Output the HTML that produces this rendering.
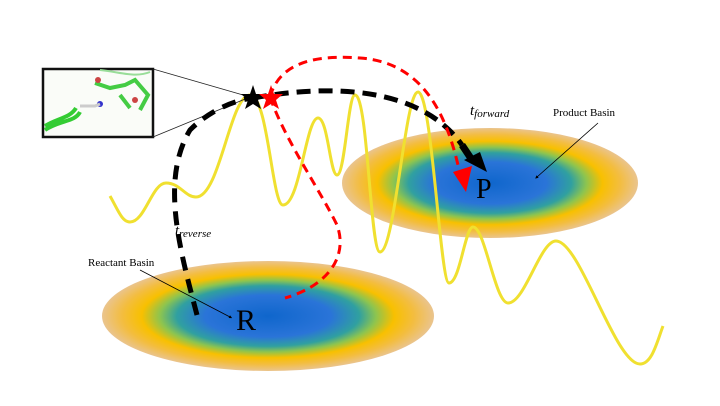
<!DOCTYPE html>
<html><head><meta charset="utf-8"><style>html,body{margin:0;padding:0;background:#fff}svg{display:block}</style></head><body>
<svg width="720" height="406" viewBox="0 0 720 406" xmlns="http://www.w3.org/2000/svg">
<defs>
<radialGradient id="g" cx="50%" cy="50%" r="50%">
<stop offset="0" stop-color="#0f66cc"/>
<stop offset="0.38" stop-color="#2a74d8"/>
<stop offset="0.55" stop-color="#30a0a0"/>
<stop offset="0.65" stop-color="#8cc450"/>
<stop offset="0.76" stop-color="#f8c000"/>
<stop offset="0.88" stop-color="#f3bd40"/>
<stop offset="1" stop-color="#eac48e"/>
</radialGradient>
<marker id="ak" markerWidth="4" markerHeight="4" refX="1" refY="2" orient="auto" markerUnits="strokeWidth"><path d="M0,0 L4,2 L0,4z" fill="#000"/></marker>
</defs>
<ellipse cx="490" cy="183" rx="148" ry="55" fill="url(#g)"/>
<ellipse cx="268" cy="316" rx="166" ry="55" fill="url(#g)"/>
<path d="M110,196 C118,210 122,222 130,222 C145,222 152,183 166,183 C180,183 185,197 196,197 C220,197 230,95 250,95 C268,95 272,205 283,205 C300,205 306,118 318,118 C328,118 330,175 337,175 C345,175 348,95 355,95 C368,95 370,252 380,252 C395,252 405,92 418,92 C432,92 440,283 449,283 C460,283 465,227 473,227 C485,227 495,303 508,303 C525,303 540,241 556,241 C580,241 615,364 640,364 C652,364 657,342 663,326" fill="none" stroke="#f0e030" stroke-width="3"/>
<rect x="43" y="69" width="110" height="68" fill="#fafcf8" stroke="#111" stroke-width="2.5"/>
<path d="M45,130 C60,120 75,122 80,112 M45,126 C58,118 70,118 76,108" stroke="#3c3" stroke-width="4" fill="none"/>
<path d="M95,83 L110,88 L125,85 L135,80 L148,95 L140,110 M120,95 L130,108" stroke="#4c4" stroke-width="4" fill="none"/>
<circle cx="98" cy="80" r="3" fill="#c44"/><circle cx="135" cy="100" r="3" fill="#c44"/><circle cx="100" cy="104" r="3" fill="#33c"/>
<path d="M80,106 L95,106 L100,104" stroke="#ccc" stroke-width="3" fill="none"/>
<path d="M100,70 C120,72 135,78 150,72" stroke="#9d9" stroke-width="2" fill="none"/>
<line x1="153" y1="69" x2="250" y2="97" stroke="#222" stroke-width="0.8"/>
<line x1="153" y1="137" x2="250" y2="97" stroke="#222" stroke-width="0.8"/>
<path d="M197,315 C180,250 160,180 190,130 C210,110 235,100 253,98" fill="none" stroke="#000" stroke-width="5" stroke-dasharray="14,9"/>
<path d="M253,98 C330,84 420,86 462,145" fill="none" stroke="#000" stroke-width="5" stroke-dasharray="14,8"/>
<path d="M462,145 L472,160" stroke="#000" stroke-width="7"/>
<path d="M464,160 L480,152 L487,172z" fill="#000"/>
<path d="M270,97 C280,60 320,55 360,58 C420,62 445,110 458,165" fill="none" stroke="#f00" stroke-width="3" stroke-dasharray="9,6"/>
<path d="M270,97 C285,140 320,190 337,225 C348,255 330,285 285,298" fill="none" stroke="#f00" stroke-width="3" stroke-dasharray="9,6"/>
<path d="M453,172 L472,166 L466,192z" fill="#f00"/>
<polygon points="253,85 256,94 265,94 258,100 261,109 253,104 245,109 248,100 241,94 250,94" fill="#000"/>
<polygon points="271,85 274,94 283,94 276,100 279,109 271,104 263,109 266,100 259,94 268,94" fill="#f00"/>
<text x="470" y="115" font-family="Liberation Serif, serif" font-style="italic" font-size="15">t<tspan font-size="11" dy="2">forward</tspan></text>
<text x="175" y="235" font-family="Liberation Serif, serif" font-style="italic" font-size="15">t<tspan font-size="11" dy="2">reverse</tspan></text>
<text x="553" y="116" font-family="Liberation Serif, serif" font-size="11">Product Basin</text>
<text x="88" y="266" font-family="Liberation Serif, serif" font-size="11">Reactant Basin</text>
<line x1="598" y1="123" x2="537" y2="177" stroke="#000" stroke-width="0.8" marker-end="url(#ak)"/>
<line x1="140" y1="270" x2="230" y2="317" stroke="#000" stroke-width="0.8" marker-end="url(#ak)"/>
<text x="236" y="330" font-family="Liberation Serif, serif" font-size="30">R</text>
<text x="476" y="198" font-family="Liberation Serif, serif" font-size="28">P</text>
</svg>
</body></html>
